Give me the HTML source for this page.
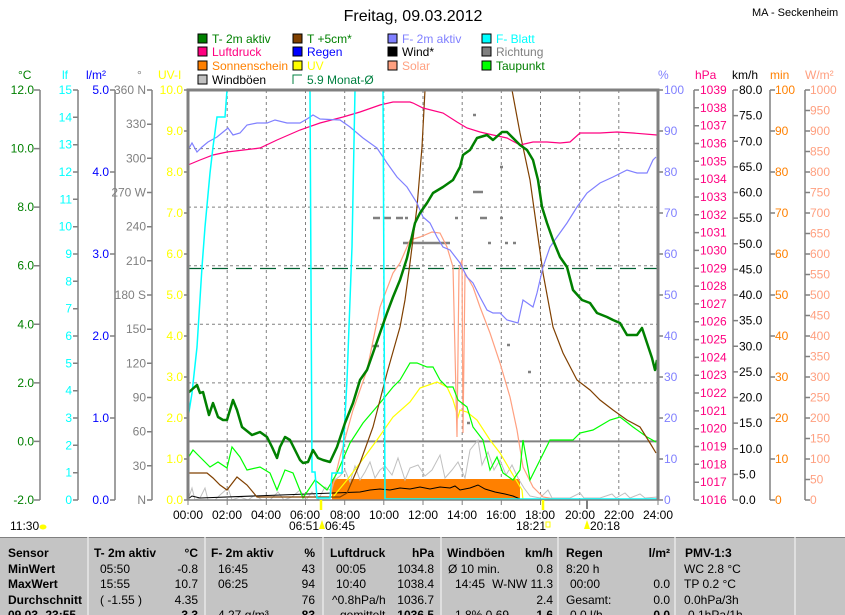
<!DOCTYPE html>
<html><head><meta charset="utf-8"><style>
body{margin:0;background:#fff;width:845px;height:615px;overflow:hidden;font-family:"Liberation Sans",sans-serif}
svg{position:absolute;left:0;top:0}
text{font-family:"Liberation Sans",sans-serif;font-size:12px}
</style></head><body>
<svg width="845" height="615" viewBox="0 0 845 615" xmlns="http://www.w3.org/2000/svg">
<rect width="845" height="615" fill="#fff"/>
<text x="413" y="21" text-anchor="middle" style="font-size:16px">Freitag, 09.03.2012</text>
<text x="752" y="16" style="font-size:11px">MA - Seckenheim</text>
<!-- legend -->
<g style="font-size:12px" stroke-width="1">
<rect x="198" y="34" width="9" height="9" fill="#008000" stroke="#000"/><text x="212" y="43" fill="#008000">T- 2m aktiv</text>
<rect x="198" y="47" width="9" height="9" fill="#ff0080" stroke="#000"/><text x="212" y="56" fill="#ff0080">Luftdruck</text>
<rect x="198" y="61" width="9" height="9" fill="#ff8000" stroke="#000"/><text x="212" y="70" fill="#ff8000">Sonnenschein</text>
<rect x="198" y="75" width="9" height="9" fill="#c0c0c0" stroke="#000"/><text x="212" y="84" fill="#000">Windböen</text>
<rect x="293" y="34" width="9" height="9" fill="#804000" stroke="#000"/><text x="307" y="43" fill="#008000">T +5cm*</text>
<rect x="293" y="47" width="9" height="9" fill="#0000ff" stroke="#000"/><text x="307" y="56" fill="#0000ff">Regen</text>
<rect x="293" y="61" width="9" height="9" fill="#ffff00" stroke="#000"/><text x="307" y="70" fill="#ffff00">UV</text>
<path d="M293 84 V75 H302" fill="none" stroke="#008040"/><text x="307" y="84" fill="#008040">5.9 Monat-Ø</text>
<rect x="388" y="34" width="9" height="9" fill="#8080ff" stroke="#000"/><text x="402" y="43" fill="#8080ff">F- 2m aktiv</text>
<rect x="388" y="47" width="9" height="9" fill="#000" stroke="#000"/><text x="402" y="56" fill="#000">Wind*</text>
<rect x="388" y="61" width="9" height="9" fill="#ffa080" stroke="#000"/><text x="402" y="70" fill="#ffa080">Solar</text>
<rect x="482" y="34" width="9" height="9" fill="#00ffff" stroke="#000"/><text x="496" y="43" fill="#00ffff">F- Blatt</text>
<rect x="482" y="47" width="9" height="9" fill="#808080" stroke="#000"/><text x="496" y="56" fill="#808080">Richtung</text>
<rect x="482" y="61" width="9" height="9" fill="#00ff00" stroke="#000"/><text x="496" y="70" fill="#008000">Taupunkt</text>
</g>
<!-- axis headers -->
<text x="18" y="79" fill="#008000">°C</text>
<text x="62" y="79" fill="#00ffff">lf</text>
<text x="86" y="79" fill="#0000ff">l/m²</text>
<text x="137" y="79" fill="#808080">°</text>
<text x="158" y="79" fill="#ffff00">UV-I</text>
<text x="658" y="79" fill="#8080ff">%</text>
<text x="695" y="79" fill="#ff0080">hPa</text>
<text x="732" y="79" fill="#000">km/h</text>
<text x="770" y="79" fill="#ff8000">min</text>
<text x="805" y="79" fill="#ffa080">W/m²</text>
<!-- left axes lines -->
<g stroke="#808080" stroke-width="1.5" fill="none">
<path d="M40 90V500M34 90H40M34 148.6H40M34 207.1H40M34 265.7H40M34 324.3H40M34 382.9H40M34 441.4H40M34 500H40"/>
<path d="M78 90V500M73 90H78M73 117.3H78M73 144.7H78M73 172H78M73 199.3H78M73 226.7H78M73 254H78M73 281.3H78M73 308.7H78M73 336H78M73 363.3H78M73 390.7H78M73 418H78M73 445.3H78M73 472.7H78M73 500H78"/>
<path d="M115 90V500M110 90H115M110 172H115M110 254H115M110 336H115M110 418H115M110 500H115"/>
<path d="M152 90V500M147 90H152M147 124.2H152M147 158.3H152M147 192.5H152M147 226.7H152M147 260.8H152M147 295H152M147 329.2H152M147 363.3H152M147 397.5H152M147 431.7H152M147 465.8H152M147 500H152"/>
<path d="M184 90H188M184 131H188M184 172H188M184 213H188M184 254H188M184 295H188M184 336H188M184 377H188M184 418H188M184 459H188M184 500H188"/>
<path d="M658 90H663M658 131H663M658 172H663M658 213H663M658 254H663M658 295H663M658 336H663M658 377H663M658 418H663M658 459H663M658 500H663"/>
<path d="M694 90V500M694 90H699M694 107.8H699M694 125.7H699M694 143.5H699M694 161.3H699M694 179.1H699M694 197H699M694 214.8H699M694 232.6H699M694 250.4H699M694 268.3H699M694 286.1H699M694 303.9H699M694 321.7H699M694 339.6H699M694 357.4H699M694 375.2H699M694 393H699M694 410.9H699M694 428.7H699M694 446.5H699M694 464.3H699M694 482.2H699M694 500H699"/>
<path d="M733 90V500M733 90H738M733 115.6H738M733 141.3H738M733 166.9H738M733 192.5H738M733 218.1H738M733 243.8H738M733 269.4H738M733 295H738M733 320.6H738M733 346.3H738M733 371.9H738M733 397.5H738M733 423.1H738M733 448.8H738M733 474.4H738M733 500H738"/>
<path d="M770 90V500M770 90H775M770 131H775M770 172H775M770 213H775M770 254H775M770 295H775M770 336H775M770 377H775M770 418H775M770 459H775M770 500H775"/>
<path d="M805 90V500M805 90H810M805 110.5H810M805 131H810M805 151.5H810M805 172H810M805 192.5H810M805 213H810M805 233.5H810M805 254H810M805 274.5H810M805 295H810M805 315.5H810M805 336H810M805 356.5H810M805 377H810M805 397.5H810M805 418H810M805 438.5H810M805 459H810M805 479.5H810M805 500H810"/>
</g>
<!-- left labels -->
<g text-anchor="end" fill="#008000">
<text x="34" y="94">12.0</text><text x="34" y="152.6">10.0</text><text x="34" y="211.1">8.0</text><text x="34" y="269.7">6.0</text><text x="34" y="328.3">4.0</text><text x="34" y="386.9">2.0</text><text x="34" y="445.4">0.0</text><text x="34" y="504">-2.0</text>
</g>
<g text-anchor="end" fill="#00ffff">
<text x="72" y="94">15</text><text x="72" y="121.3">14</text><text x="72" y="148.7">13</text><text x="72" y="176">12</text><text x="72" y="203.3">11</text><text x="72" y="230.7">10</text><text x="72" y="258">9</text><text x="72" y="285.3">8</text><text x="72" y="312.7">7</text><text x="72" y="340">6</text><text x="72" y="367.3">5</text><text x="72" y="394.7">4</text><text x="72" y="422">3</text><text x="72" y="449.3">2</text><text x="72" y="476.7">1</text><text x="72" y="504">0</text>
</g>
<g text-anchor="end" fill="#0000ff">
<text x="109" y="94">5.0</text><text x="109" y="176">4.0</text><text x="109" y="258">3.0</text><text x="109" y="340">2.0</text><text x="109" y="422">1.0</text><text x="109" y="504">0.0</text>
</g>
<g text-anchor="end" fill="#808080">
<text x="146" y="94">360 N</text><text x="146" y="128.2">330</text><text x="146" y="162.3">300</text><text x="146" y="196.5">270 W</text><text x="146" y="230.7">240</text><text x="146" y="264.8">210</text><text x="146" y="299">180 S</text><text x="146" y="333.2">150</text><text x="146" y="367.3">120</text><text x="146" y="401.5">90</text><text x="146" y="435.7">60</text><text x="146" y="469.8">30</text><text x="146" y="504">N</text>
</g>
<g text-anchor="end" fill="#ffff00">
<text x="183" y="94">10.0</text><text x="183" y="135">9.0</text><text x="183" y="176">8.0</text><text x="183" y="217">7.0</text><text x="183" y="258">6.0</text><text x="183" y="299">5.0</text><text x="183" y="340">4.0</text><text x="183" y="381">3.0</text><text x="183" y="422">2.0</text><text x="183" y="463">1.0</text><text x="183" y="504">0.0</text>
</g>
<!-- right labels -->
<g fill="#8080ff">
<text x="664" y="94">100</text><text x="664" y="135">90</text><text x="664" y="176">80</text><text x="664" y="217">70</text><text x="664" y="258">60</text><text x="664" y="299">50</text><text x="664" y="340">40</text><text x="664" y="381">30</text><text x="664" y="422">20</text><text x="664" y="463">10</text><text x="664" y="504">0</text>
</g>
<g fill="#ff0080">
<text x="700" y="94">1039</text><text x="700" y="111.8">1038</text><text x="700" y="129.7">1037</text><text x="700" y="147.5">1036</text><text x="700" y="165.3">1035</text><text x="700" y="183.1">1034</text><text x="700" y="201">1033</text><text x="700" y="218.8">1032</text><text x="700" y="236.6">1031</text><text x="700" y="254.4">1030</text><text x="700" y="272.3">1029</text><text x="700" y="290.1">1028</text><text x="700" y="307.9">1027</text><text x="700" y="325.7">1026</text><text x="700" y="343.6">1025</text><text x="700" y="361.4">1024</text><text x="700" y="379.2">1023</text><text x="700" y="397">1022</text><text x="700" y="414.9">1021</text><text x="700" y="432.7">1020</text><text x="700" y="450.5">1019</text><text x="700" y="468.3">1018</text><text x="700" y="486.2">1017</text><text x="700" y="504">1016</text>
</g>
<g fill="#000">
<text x="739" y="94">80.0</text><text x="739" y="119.6">75.0</text><text x="739" y="145.3">70.0</text><text x="739" y="170.9">65.0</text><text x="739" y="196.5">60.0</text><text x="739" y="222.1">55.0</text><text x="739" y="247.8">50.0</text><text x="739" y="273.4">45.0</text><text x="739" y="299">40.0</text><text x="739" y="324.6">35.0</text><text x="739" y="350.3">30.0</text><text x="739" y="375.9">25.0</text><text x="739" y="401.5">20.0</text><text x="739" y="427.1">15.0</text><text x="739" y="452.8">10.0</text><text x="739" y="478.4">5.0</text><text x="739" y="504">0.0</text>
</g>
<g fill="#ff8000">
<text x="775" y="94">100</text><text x="775" y="135">90</text><text x="775" y="176">80</text><text x="775" y="217">70</text><text x="775" y="258">60</text><text x="775" y="299">50</text><text x="775" y="340">40</text><text x="775" y="381">30</text><text x="775" y="422">20</text><text x="775" y="463">10</text><text x="775" y="504">0</text>
</g>
<g fill="#ffa080">
<text x="810" y="94">1000</text><text x="810" y="114.5">950</text><text x="810" y="135">900</text><text x="810" y="155.5">850</text><text x="810" y="176">800</text><text x="810" y="196.5">750</text><text x="810" y="217">700</text><text x="810" y="237.5">650</text><text x="810" y="258">600</text><text x="810" y="278.5">550</text><text x="810" y="299">500</text><text x="810" y="319.5">450</text><text x="810" y="340">400</text><text x="810" y="360.5">350</text><text x="810" y="381">300</text><text x="810" y="401.5">250</text><text x="810" y="422">200</text><text x="810" y="442.5">150</text><text x="810" y="463">100</text><text x="810" y="483.5">50</text><text x="810" y="504">0</text>
</g>
<!-- grid -->
<g stroke="#808080" stroke-width="1" stroke-dasharray="3,3" fill="none">
<path d="M227.2 90V500M266.3 90V500M305.5 90V500M344.7 90V500M383.8 90V500M423 90V500M462.2 90V500M501.3 90V500M540.5 90V500M579.7 90V500M618.8 90V500"/>
<path d="M188 148.6H658M188 207.1H658M188 265.7H658M188 324.3H658M188 382.9H658"/>
</g>
<path d="M188 441.4H658" stroke="#808080" stroke-width="2"/>
<path d="M188 268.5H658" stroke="#006030" stroke-width="1.2" stroke-dasharray="16,8"/>
<!-- sunshine -->
<rect x="332" y="479" width="188" height="21" fill="#ff8000"/>
<!-- windboeen -->
<polyline fill="none" stroke="#c0c0c0" stroke-width="1" points="188,500 192,488 195,500 200,498 205,488 208,500 215,500 220,495 228,488 232,500 240,497 248,500 255,495 262,500 270,500 278,492 284,500 292,497 300,490 306,500 312,492 318,500 325,487 330,490 335,480 340,476 345,470 350,482 355,466 360,480 365,472 370,462 375,478 380,470 385,466 392,475 398,458 405,480 410,468 418,465 425,476 432,470 440,455 445,478 452,470 458,462 465,478 470,450 478,440 482,465 488,452 494,470 500,460 506,475 512,465 518,478 524,488 530,496 540,498 548,490 552,498 560,498 570,498 580,493 584,498 600,498 612,494 616,498 625,493 630,498 640,494 645,498 658,497"/>
<!-- wind -->
<polyline fill="none" stroke="#000" stroke-width="1" points="188,499 192,496 200,498 360,492 370,490 380,489 390,490 400,488 410,489 420,487 430,489 440,487 450,488 455,486 460,490 470,488 478,485 485,489 495,492 505,494 513,496 520,499 530,500"/>
<!-- richtung -->
<g stroke="#808080" stroke-width="2.5">
<path d="M373 218H380M384 218H391M396 218H403M372 346H379M403 243H450M455 218H458M473 192H483M480 218H487M500 218H503M488 243H491M505 243H508M513 243H516M507 345H510M528 372H531M467 423H470M473 115H476M500 167H503M405 218H408"/>
</g>
<!-- UV -->
<polyline fill="none" stroke="#ffff00" stroke-width="1.2" points="333,497 347,480 360,463 377,440 393,417 410,402 420,388 437,382 447,387 453,400 458,417 460,410 467,412 477,420 490,440 500,453 513,475 522,490 523,500"/>
<!-- solar -->
<polyline fill="none" stroke="#ffa080" stroke-width="1.2" points="330,497 340,457 353,410 367,370 380,307 393,273 400,263 410,240 420,237 432,232 440,233 447,247 453,267 457,437 459,270 462,260 463,433 465,273 473,287 480,307 490,333 500,363 510,397 517,430 523,467 533,487 543,497 560,500"/>
<!-- taupunkt -->
<polyline fill="none" stroke="#00ff00" stroke-width="1.2" points="188,458 193,450 200,457 210,467 218,462 227,468 232,447 240,457 247,470 260,467 270,473 277,490 285,470 293,473 303,498 315,480 327,490 337,473 350,443 363,423 380,403 393,387 400,380 410,363 417,363 427,367 433,367 440,380 447,387 453,387 458,400 467,407 473,427 483,440 490,470 497,457 503,473 513,480 520,470 523,440 530,480 540,460 550,440 573,440 580,433 593,430 610,420 620,417 633,427 647,437 656,442"/>
<!-- T+5cm -->
<polyline fill="none" stroke="#804000" stroke-width="1.2" points="188,473 207,473 213,478 220,485 227,490 237,477 247,485 257,497 340,497 347,493 360,463 373,427 387,373 400,327 405,300 410,263 417,207 422,147 425,90"/>
<polyline fill="none" stroke="#804000" stroke-width="1.2" points="512,90 520,133 530,180 537,230 543,273 553,327 563,353 577,380 590,390 600,400 613,410 627,420 640,427 650,443 656,453"/>
<!-- luftdruck -->
<polyline fill="none" stroke="#ff0080" stroke-width="1.2" points="188,165 200,160 213,155 227,152 260,148 277,140 300,130 320,123 343,117 360,112 380,105 393,102 410,102 413,103 423,108 443,113 457,122 467,128 480,132 493,135 507,138 520,145 533,142 547,142 560,143 570,142 580,133 600,133 617,132 633,133 657,135"/>
<!-- F-2m -->
<polyline fill="none" stroke="#8080ff" stroke-width="1.2" points="188,150 192,143 197,152 202,147 208,142 217,137 228,128 233,135 240,133 247,125 257,123 267,123 275,120 287,123 300,123 307,119 313,115 320,119 340,120 350,127 363,138 377,148 387,163 397,177 407,187 417,203 423,217 430,223 437,237 443,247 450,250 460,263 467,277 473,283 480,297 487,310 493,313 500,313 507,320 518,323 523,300 533,307 537,293 543,267 550,247 557,237 567,223 577,207 587,193 600,183 613,177 627,170 637,173 647,173 653,160 656,157"/>
<!-- F-Blatt -->
<polyline fill="none" stroke="#00ffff" stroke-width="1.5" points="188,418 192,393 197,347 202,267 205,227 210,173 213,147 217,117 225,117 227,90 310,90 312,472 315,472 317,498 330,498 332,473 342,473 347,380 352,247 355,90 383,90 385,499 658,499"/>
<!-- T-2m -->
<polyline fill="none" stroke="#008000" stroke-width="2.5" stroke-linejoin="round" points="188,393 197,385 200,393 203,392 209,415 213,403 218,417 223,420 227,420 233,400 237,410 242,427 252,435 260,432 267,437 272,447 277,458 280,447 285,437 290,440 295,450 300,460 303,463 308,462 313,450 318,458 323,460 330,462 337,447 345,423 353,403 360,380 367,370 373,353 380,333 387,313 393,297 400,280 407,258 415,223 420,213 427,203 433,193 443,187 453,180 460,167 463,155 470,150 477,138 487,135 493,140 502,132 507,132 513,138 520,145 527,150 533,160 538,180 542,207 547,223 553,240 560,257 567,267 573,290 582,300 590,303 597,313 607,317 613,320 620,323 627,335 637,335 642,328 647,343 652,358 655,370 657,360"/>
<!-- frame -->
<path d="M188 500V90H658V500" fill="none" stroke="#808080" stroke-width="3"/>
<path d="M188 500H658" stroke="#808080" stroke-width="1.5"/>
<g stroke="#808080" stroke-width="1">
<path d="M188 500V505M227.2 500V505M266.3 500V505M305.5 500V505M344.7 500V505M383.8 500V505M423 500V505M462.2 500V505M501.3 500V505M540.5 500V505M579.7 500V505M618.8 500V505M658 500V505"/>
</g>
<path d="M321 500V510M543 500V510" stroke="#ffff00" stroke-width="2.5"/>
<path d="M587 500V509" stroke="#808080" stroke-width="2"/>
<!-- time labels -->
<g text-anchor="middle" style="font-size:11.5px">
<text x="188" y="519">00:00</text><text x="227" y="519">02:00</text><text x="266" y="519">04:00</text><text x="305" y="519">06:00</text><text x="345" y="519">08:00</text><text x="384" y="519">10:00</text><text x="423" y="519">12:00</text><text x="462" y="519">14:00</text><text x="501" y="519">16:00</text><text x="540" y="519">18:00</text><text x="580" y="519">20:00</text><text x="619" y="519">22:00</text><text x="658" y="519">24:00</text>
</g>
<g style="font-size:11.5px">
<text x="10" y="530">11:30</text><ellipse cx="43" cy="527" rx="3.5" ry="2.5" fill="#ffff00"/>
<text x="289" y="530">06:51</text><path d="M319 529L322 520L325 529Z" fill="#ffff00"/><text x="325" y="530">06:45</text>
<text x="516" y="530">18:21</text><rect x="546" y="522" width="4" height="5" fill="none" stroke="#ffff00"/>
<path d="M584 529L587 520L590 529Z" fill="#ffff00"/><text x="590" y="530">20:18</text>
</g>
<!-- table -->
<rect x="0" y="537" width="845" height="78" fill="#c4c4c4"/>
<path d="M0 537.5H845" stroke="#808080"/>
<g stroke="#e8e8e8" stroke-width="1.5">
<path d="M88 537V615M205 537V615M323 537V615M441 537V615M558 537V615M675 537V615M795 537V615"/>
</g>
<g style="font-size:12px" fill="#000">
<g font-weight="bold">
<text x="8" y="557">Sensor</text><text x="8" y="573">MinWert</text><text x="8" y="588">MaxWert</text><text x="8" y="604">Durchschnitt</text><text x="8" y="619">09.03.-23:55</text>
<text x="94" y="557">T- 2m aktiv</text><text x="198" y="557" text-anchor="end">°C</text>
<text x="211" y="557">F- 2m aktiv</text><text x="315" y="557" text-anchor="end">%</text>
<text x="330" y="557">Luftdruck</text><text x="434" y="557" text-anchor="end">hPa</text>
<text x="447" y="557">Windböen</text><text x="553" y="557" text-anchor="end">km/h</text>
<text x="566" y="557">Regen</text><text x="670" y="557" text-anchor="end">l/m²</text>
<text x="685" y="557">PMV-1:3</text>
<text x="198" y="619" text-anchor="end">3.3</text><text x="315" y="619" text-anchor="end">83</text><text x="434" y="619" text-anchor="end">1036.5</text><text x="553" y="619" text-anchor="end">1.6</text><text x="670" y="619" text-anchor="end">0.0</text>
</g>
<text x="100" y="573">05:50</text><text x="198" y="573" text-anchor="end">-0.8</text>
<text x="100" y="588">15:55</text><text x="198" y="588" text-anchor="end">10.7</text>
<text x="100" y="604">( -1.55 )</text><text x="198" y="604" text-anchor="end">4.35</text>
<text x="218" y="573">16:45</text><text x="315" y="573" text-anchor="end">43</text>
<text x="218" y="588">06:25</text><text x="315" y="588" text-anchor="end">94</text>
<text x="315" y="604" text-anchor="end">76</text><text x="218" y="619">4.27 g/m³</text>
<text x="336" y="573">00:05</text><text x="434" y="573" text-anchor="end">1034.8</text>
<text x="336" y="588">10:40</text><text x="434" y="588" text-anchor="end">1038.4</text>
<text x="332" y="604">^0.8hPa/h</text><text x="434" y="604" text-anchor="end">1036.7</text><text x="340" y="619">gemittelt</text>
<text x="448" y="573">Ø 10 min.</text><text x="553" y="573" text-anchor="end">0.8</text>
<text x="455" y="588">14:45</text><text x="553" y="588" text-anchor="end">W-NW 11.3</text>
<text x="553" y="604" text-anchor="end">2.4</text><text x="455" y="619">1.8% 0.69</text>
<text x="566" y="573">8:20 h</text>
<text x="570" y="588">00:00</text><text x="670" y="588" text-anchor="end">0.0</text>
<text x="566" y="604">Gesamt:</text><text x="670" y="604" text-anchor="end">0.0</text><text x="570" y="619">0.0 l/h</text>
<text x="684" y="573">WC 2.8 °C</text>
<text x="684" y="588">TP 0.2 °C</text>
<text x="684" y="604">0.0hPa/3h</text>
<text x="684" y="619">-0.1hPa/1h</text>
</g>
</svg>
</body></html>
